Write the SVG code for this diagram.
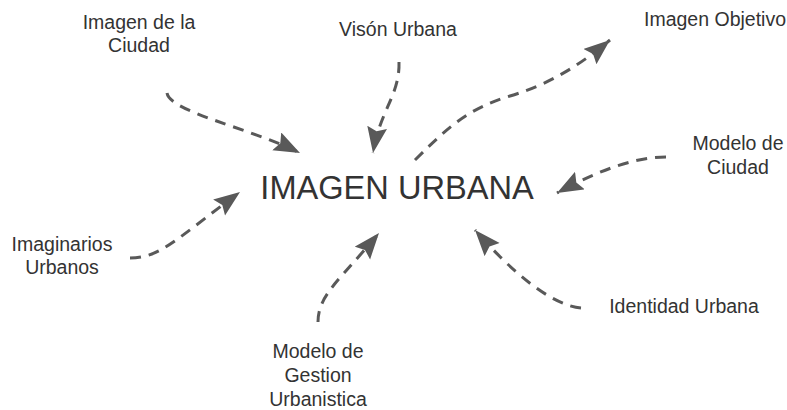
<svg xmlns="http://www.w3.org/2000/svg" width="787" height="410" viewBox="0 0 787 410">
<style>
.lbl{font-family:"Liberation Sans",Arial,sans-serif;font-size:19.5px;fill:#333;text-anchor:middle}
.main{font-family:"Liberation Sans",Arial,sans-serif;font-size:32.6px;fill:#333;text-anchor:middle}
.c{fill:none;stroke:#595959;stroke-width:3;stroke-dasharray:11 8;marker-end:url(#ah)}
</style>
<defs>
<marker id="ah" markerUnits="userSpaceOnUse" markerWidth="30" markerHeight="24" refX="26" refY="10" orient="auto">
<path d="M0,0 L26,10 L0,20 L4,10 z" fill="#595959"/>
</marker>
</defs>
<rect width="787" height="410" fill="#fff"/>
<g id="connectors">
<path class="c" d="M167,93 C170,112 250,128 300,153"/>
<path class="c" d="M399,62 C400,95 380,110 373,153"/>
<path class="c" d="M415,160 C450,125 470,108 510,96 S580,65 610,40"/>
<path class="c" d="M666,157 C630,157 590,175 557,193"/>
<path class="c" d="M581,308 C550,305 510,270 475,230"/>
<path class="c" d="M318,322 C318,295 340,280 379,233"/>
<path class="c" d="M130,258 C160,258 175,240 240,192"/>
</g>
<g id="center"><text class="main" x="397" y="199">IMAGEN URBANA</text></g>
<g id="n1"><text class="lbl" x="139" y="29">Imagen de la</text><text class="lbl" x="139" y="52">Ciudad</text></g>
<g id="n2"><text class="lbl" x="398" y="36">Visón Urbana</text></g>
<g id="n3"><text class="lbl" x="715" y="26">Imagen Objetivo</text></g>
<g id="n4"><text class="lbl" x="738" y="150">Modelo de</text><text class="lbl" x="738" y="174">Ciudad</text></g>
<g id="n5"><text class="lbl" x="684" y="313">Identidad Urbana</text></g>
<g id="n6"><text class="lbl" x="318" y="358">Modelo de</text><text class="lbl" x="318" y="382">Gestion</text><text class="lbl" x="318" y="406">Urbanistica</text></g>
<g id="n7"><text class="lbl" x="62" y="251">Imaginarios</text><text class="lbl" x="62" y="274">Urbanos</text></g>
</svg>
